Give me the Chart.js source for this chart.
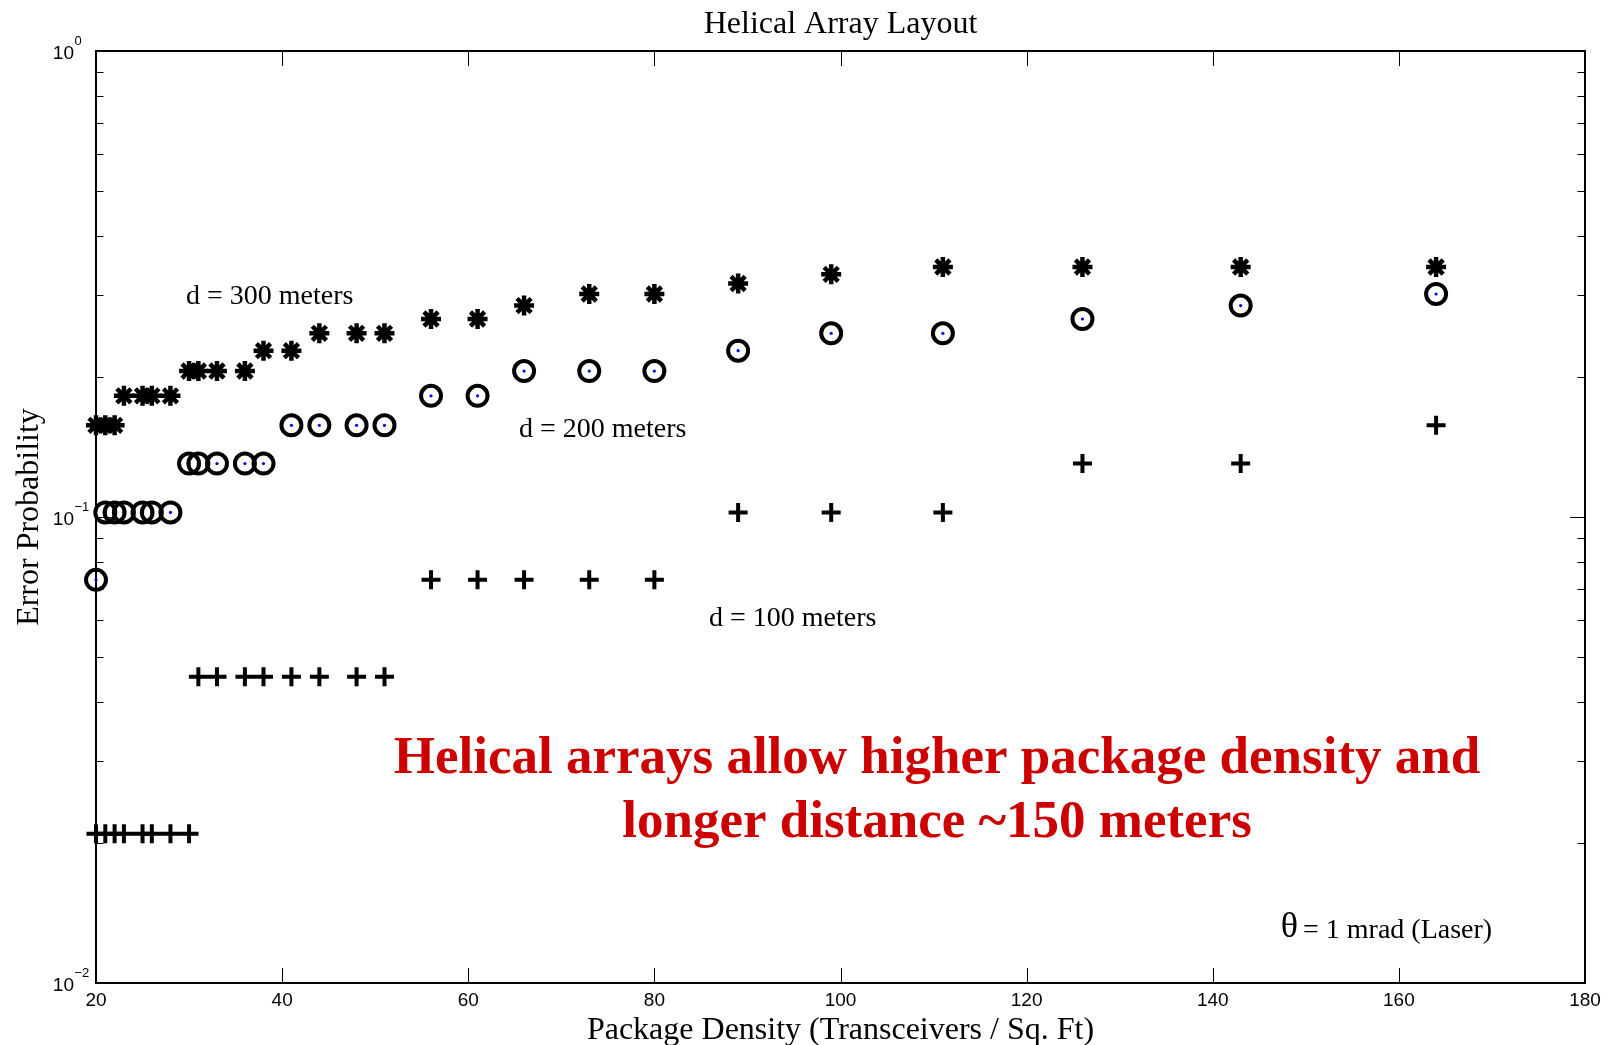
<!DOCTYPE html>
<html lang="en">
<head>
  <meta charset="UTF-8">
  <title>Helical Array Layout</title>
  <script src="https://cdn.jsdelivr.net/npm/chart.js"></script>
  <style>
    html, body {
      margin: 0;
      padding: 0;
      background-color: #fff;
    }
    canvas {
      display: block;
    }
  </style>
</head>
<body>
  <canvas id="helicalChart" width="1612" height="1045"></canvas>

  <script>
    // package density (transceivers / sq. ft), same for all three distances
    const densidade = [20, 21, 22, 23, 25, 26, 28, 30, 31, 33, 36, 38, 41, 44, 48, 51,
                       56, 61, 66, 73, 80, 89, 99, 111, 126, 143, 164];

    // error probability, d = 300 meters (*)
    const erro300 = [0.1573, 0.1573, 0.1573, 0.182, 0.182, 0.182, 0.182,
                     0.2057, 0.2057, 0.2057, 0.2057, 0.2275, 0.2275,
                     0.2478, 0.2478, 0.2478, 0.266, 0.266, 0.2843, 0.301, 0.301,
                     0.317, 0.3317, 0.344, 0.344, 0.344, 0.344];

    // error probability, d = 200 meters (o)
    const erro200 = [0.0733, 0.1023, 0.1023, 0.1023, 0.1023, 0.1023, 0.1023,
                     0.1302, 0.1302, 0.1302, 0.1302, 0.1302,
                     0.1573, 0.1573, 0.1573, 0.1573, 0.182, 0.182,
                     0.2057, 0.2057, 0.2057, 0.2275, 0.2478, 0.2478, 0.266, 0.2843, 0.301];

    // error probability, d = 100 meters (+)
    const erro100 = [0.0209, 0.0209, 0.0209, 0.0209, 0.0209, 0.0209, 0.0209, 0.0209,
                     0.0454, 0.0454, 0.0454, 0.0454, 0.0454, 0.0454, 0.0454, 0.0454,
                     0.0733, 0.0733, 0.0733, 0.0733, 0.0733,
                     0.1023, 0.1023, 0.1023, 0.1302, 0.1302, 0.1573];

    const xTicks = [20, 40, 60, 80, 100, 120, 140, 160, 180];
    const yMajor = [0.01, 0.1, 1];
    const yMajorExp = ['\u22122', '\u22121', '0'];
    const yMinorMult = [2, 3, 4, 5, 6, 7, 8, 9];

    function pontos(ys) {
      return densidade.map((x, i) => ({ x: x, y: ys[i] }));
    }

    // text placed in data coordinates, like matlab text()
    const anotacoes = [
      { x: 29.67, y: 0.2865, text: 'd = 300 meters', font: '28px "Liberation Serif"', color: '#000', align: 'left' },
      { x: 65.45, y: 0.1485, text: 'd = 200 meters', font: '28px "Liberation Serif"', color: '#000', align: 'left' },
      { x: 85.87, y: 0.0584, text: 'd = 100 meters', font: '28px "Liberation Serif"', color: '#000', align: 'left' },
      { x: 110.37, y: 0.02822, text: 'Helical arrays allow higher package density and', font: 'bold 53px "Liberation Serif"', color: '#cc0000', align: 'center' },
      { x: 110.37, y: 0.02058, text: 'longer distance ~150 meters', font: 'bold 53px "Liberation Serif"', color: '#cc0000', align: 'center' },
      { x: 147.3, y: 0.01255, text: '\u03b8', font: '36px "Liberation Serif"', color: '#000', align: 'left' },
      { x: 149.7, y: 0.01246, text: '= 1 mrad (Laser)', font: '28px "Liberation Serif"', color: '#000', align: 'left' }
    ];

    const molduraPlugin = {
      id: 'moldura',
      beforeDatasetsDraw(chart) {
        const ctx = chart.ctx;
        const a = chart.chartArea;
        const xs = chart.scales.x;
        const ys = chart.scales.y;
        ctx.save();
        ctx.strokeStyle = '#000';
        ctx.lineWidth = 1;
        ctx.beginPath();
        // x ticks, inward at bottom and top
        xTicks.forEach(v => {
          const px = Math.round(xs.getPixelForValue(v)) + 0.5;
          ctx.moveTo(px, a.bottom); ctx.lineTo(px, a.bottom - 15);
          ctx.moveTo(px, a.top); ctx.lineTo(px, a.top + 15);
        });
        // y ticks, major and minor, inward at left and right
        yMajor.forEach((v, i) => {
          const py = Math.round(ys.getPixelForValue(v)) + 0.5;
          ctx.moveTo(a.left, py); ctx.lineTo(a.left + 15, py);
          ctx.moveTo(a.right, py); ctx.lineTo(a.right - 15, py);
          if (i < yMajor.length - 1) {
            yMinorMult.forEach(m => {
              const pm = Math.round(ys.getPixelForValue(v * m)) + 0.5;
              ctx.moveTo(a.left, pm); ctx.lineTo(a.left + 7.5, pm);
              ctx.moveTo(a.right, pm); ctx.lineTo(a.right - 7.5, pm);
            });
          }
        });
        ctx.stroke();

        ctx.lineWidth = 2;
        ctx.strokeRect(a.left, a.top, a.right - a.left, a.bottom - a.top);

        // y tick labels 10^n
        ctx.fillStyle = '#000';
        ctx.textBaseline = 'middle';
        yMajor.forEach((v, i) => {
          const py = ys.getPixelForValue(v);
          ctx.font = '19px "Liberation Sans"';
          ctx.textAlign = 'right';
          ctx.fillText('10', a.left - 22, py + 2.5);
          ctx.font = '13px "Liberation Sans"';
          ctx.textAlign = 'left';
          ctx.fillText(yMajorExp[i], a.left - 21.5, py - 9.5);
        });
        ctx.restore();
      },
      afterDraw(chart) {
        const ctx = chart.ctx;
        const a = chart.chartArea;
        const xs = chart.scales.x;
        const ys = chart.scales.y;
        ctx.save();
        ctx.textBaseline = 'alphabetic';

        ctx.fillStyle = '#000';
        ctx.font = '32px "Liberation Serif"';
        ctx.textAlign = 'center';
        ctx.fillText('Helical Array Layout', (a.left + a.right) / 2, 33);

        anotacoes.forEach(t => {
          ctx.font = t.font;
          ctx.fillStyle = t.color;
          ctx.textAlign = t.align;
          ctx.fillText(t.text, xs.getPixelForValue(t.x), ys.getPixelForValue(t.y));
        });
        ctx.restore();
      }
    };

    const ctx = document.getElementById('helicalChart').getContext('2d');
    new Chart(ctx, {
      type: 'scatter',
      data: {
        datasets: [
          {
            label: 'd = 300 meters',
            data: pontos(erro300),
            pointStyle: 'star',
            pointRadius: 10,
            borderColor: '#000',
            backgroundColor: '#000',
            borderWidth: 4.5,
            clip: false
          },
          {
            label: 'd = 200 meters',
            data: pontos(erro200),
            pointStyle: 'circle',
            pointRadius: 10,
            borderColor: '#000',
            backgroundColor: 'rgba(0,0,0,0)',
            borderWidth: 4,
            clip: false
          },
          {
            label: 'd = 200 meters (centro)',
            data: pontos(erro200),
            pointStyle: 'circle',
            pointRadius: 1.6,
            borderWidth: 0,
            backgroundColor: '#0000ff',
            clip: false
          },
          {
            label: 'd = 100 meters',
            data: pontos(erro100),
            pointStyle: 'cross',
            pointRadius: 9.5,
            borderColor: '#000',
            borderWidth: 4,
            clip: false
          }
        ]
      },
      options: {
        responsive: false,
        animation: false,
        events: [],
        layout: {
          padding: { top: 51, right: 27, left: 0, bottom: 0 }
        },
        plugins: {
          legend: { display: false },
          tooltip: { enabled: false }
        },
        scales: {
          x: {
            type: 'linear',
            min: 20,
            max: 180,
            afterFit: s => { s.height = 62; },
            afterBuildTicks: s => { s.ticks = xTicks.map(v => ({ value: v })); },
            grid: { display: false, drawTicks: false },
            border: { display: false },
            ticks: {
              color: '#000',
              padding: 6,
              maxRotation: 0,
              font: { family: 'Liberation Sans', size: 19 }
            },
            title: {
              display: true,
              text: 'Package Density (Transceivers / Sq. Ft)',
              color: '#000',
              font: { family: 'Liberation Serif', size: 32, lineHeight: 1 },
              padding: { top: 0, bottom: -2 }
            }
          },
          y: {
            type: 'logarithmic',
            min: 0.01,
            max: 1,
            afterFit: s => { s.width = 96; },
            grid: { display: false, drawTicks: false },
            border: { display: false },
            ticks: { display: false },
            title: {
              display: true,
              text: 'Error Probability',
              color: '#000',
              font: { family: 'Liberation Serif', size: 32, lineHeight: 1 },
              padding: { top: 14, bottom: 0 }
            }
          }
        }
      },
      plugins: [molduraPlugin]
    });
  </script>
</body>
</html>
